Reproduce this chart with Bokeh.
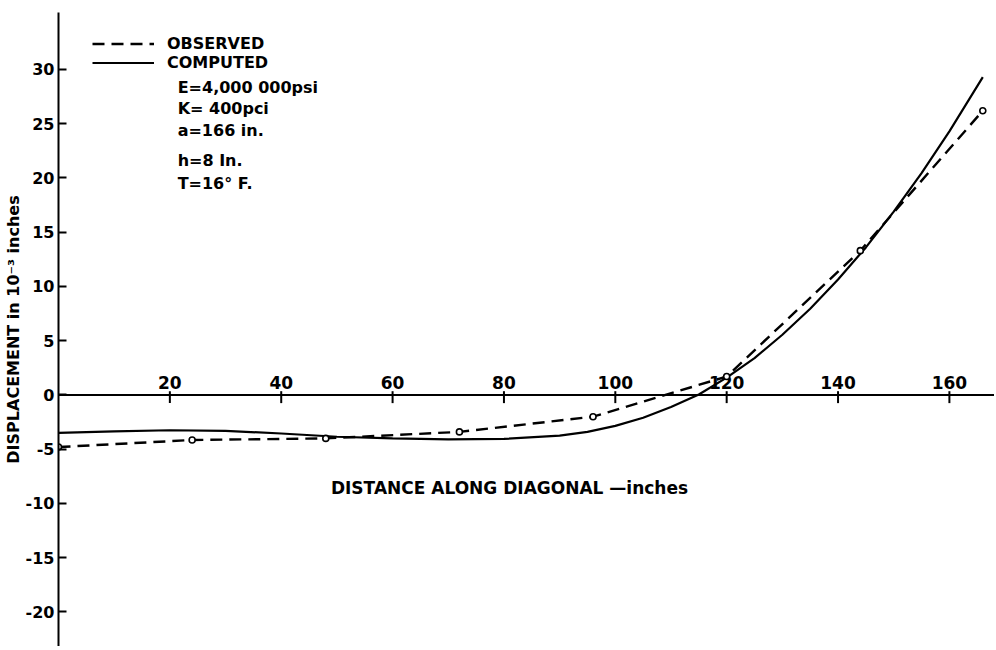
from bokeh.plotting import figure
from bokeh.models import Span, Label, Legend, LegendItem, FixedTicker, ColumnDataSource
from bokeh.core.properties import value
from bokeh.embed import file_html
from bokeh.resources import INLINE

# Observed deflections (dashed with circles)
obs_x = [0, 24, 48, 72, 96, 120, 144, 166]
obs_y = [-4.8, -4.15, -4.0, -3.4, -2.0, 1.7, 13.3, 26.2]

# Computed deflection curve (solid)
comp_x = [0, 10, 20, 30, 40, 50, 60, 70, 80, 90, 95, 100, 105, 110, 115, 120,
          125, 130, 135, 140, 145, 150, 155, 160, 166]
comp_y = [-3.5, -3.35, -3.25, -3.3, -3.55, -3.85, -4.0, -4.1, -4.05, -3.75, -3.4,
          -2.85, -2.1, -1.1, 0.05, 1.6, 3.4, 5.55, 7.95, 10.65, 13.6, 16.9, 20.45,
          24.3, 29.3]

x_ticks = [20, 40, 60, 80, 100, 120, 140, 160]
x_tick_labels = ["20", "40", "60", "80", "100", "120", "140", "160"]
y_ticks = [-20, -15, -10, -5, 0, 5, 10, 15, 20, 25, 30]
y_tick_labels = ["-20", "-15", "-10", "-5", "0", "5", "10", "15", "20", "25", "30"]

params = ["E=4,000 000psi", "K= 400pci", "a=166 in.", "h=8 In.", "T=16° F."]
param_y = [28.3, 26.4, 24.4, 21.6, 19.5]

FONT = "DejaVu Sans"

p = figure(width=994, height=646, x_range=(0, 168.1), y_range=(-23.18, 35.25),
           output_backend="svg", toolbar_location=None,
           x_axis_location=None, y_axis_location="left",
           min_border_left=58, min_border_right=0, min_border_top=12, min_border_bottom=0)
p.outline_line_color = None
p.xgrid.visible = False
p.ygrid.visible = False
p.background_fill_color = "white"

ax = p.yaxis[0]
ax.ticker = FixedTicker(ticks=y_ticks)
ax.major_label_overrides = {t: s for t, s in zip(y_ticks, y_tick_labels)}
ax.axis_line_width = 2
ax.axis_line_color = "black"
ax.major_tick_in = 8
ax.major_tick_out = 0
ax.major_tick_line_width = 2
ax.major_tick_line_color = "black"
ax.minor_tick_line_color = None
ax.major_label_text_font = FONT
ax.major_label_text_font_size = "16px"
ax.major_label_text_font_style = "bold"
ax.major_label_text_color = "black"
ax.major_label_standoff = 4
ax.axis_label = "DISPLACEMENT in 10⁻³ inches"
ax.axis_label_text_font = FONT
ax.axis_label_text_font_size = "16px"
ax.axis_label_text_font_style = "bold"
ax.axis_label_text_color = "black"
ax.axis_label_standoff = 0

# Horizontal (zero) axis drawn inside the plot
p.add_layout(Span(location=0, dimension="width", line_color="black", line_width=2))
tick_src = ColumnDataSource(dict(x=x_ticks, y0=[-0.75] * len(x_ticks), y1=[0.35] * len(x_ticks),
                                 ty=[0] * len(x_ticks), lab=x_tick_labels))
p.segment(x0="x", y0="y0", x1="x", y1="y1", source=tick_src, line_color="black", line_width=2)
p.text(x="x", y="ty", text="lab", source=tick_src, text_align="center", text_baseline="bottom",
       y_offset=-6, text_font=value(FONT), text_font_size="17px", text_font_style="bold",
       text_color="black")

solid = p.line(comp_x, comp_y, line_color="black", line_width=2.2)
dashed = p.line(obs_x, obs_y, line_color="black", line_width=2.4, line_dash="12 7")
p.scatter(obs_x, obs_y, marker="circle", size=6, fill_color="white", line_color="black", line_width=1.6)

legend = Legend(items=[LegendItem(label="OBSERVED", renderers=[dashed]),
                       LegendItem(label="COMPUTED", renderers=[solid])],
                location=(34, 574), padding=0, margin=0, spacing=0,
                glyph_width=62, glyph_height=19, label_height=19, label_standoff=13,
                label_text_font=FONT, label_text_font_size="16px", label_text_font_style="bold",
                label_text_color="black", border_line_alpha=0, background_fill_alpha=0)
p.add_layout(legend)

for txt, yy in zip(params, param_y):
    p.add_layout(Label(x=21.4, y=yy, text=txt, text_font=FONT, text_font_size="16px",
                       text_font_style="bold", text_baseline="middle", text_color="black"))

p.add_layout(Label(x=81, y=-8.6, text="DISTANCE ALONG DIAGONAL —inches", text_font=FONT,
                   text_font_size="17px", text_font_style="bold", text_align="center",
                   text_baseline="middle", text_color="black"))

open("out.html", "w").write(file_html(p, INLINE))
